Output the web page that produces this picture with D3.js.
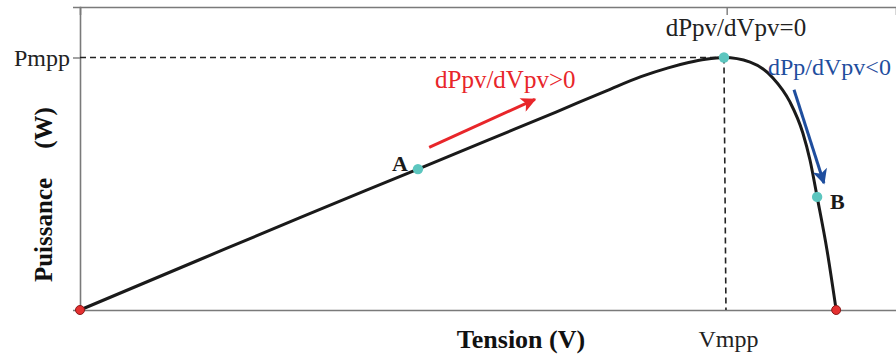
<!DOCTYPE html>
<html>
<head>
<meta charset="utf-8">
<script src="https://cdn.jsdelivr.net/npm/d3@7/dist/d3.min.js"></script>
<style>
  html, body { margin: 0; padding: 0; background: #fff; }
  svg { display: block; }
  text { font-family: "Liberation Serif", "Times New Roman", serif; }
</style>
</head>
<body>
<div id="chart"></div>
<script>
// P-V characteristic of a PV module (voltage in V, power in W)
const voltage = [0, 3.53, 6.47, 9.94, 12.0, 14.0, 15.5, 16.5, 17.3, 17.9, 18.4, 18.94, 19.71, 20.38, 20.88, 21.26, 21.47, 21.68, 21.97, 22.24];
const power   = [0, 20.0, 36.6, 55.8, 67.3, 78.4, 86.9, 92.4, 95.9, 98.0, 99.3, 100.0, 98.2, 91.9, 82.4, 70.1, 59.4, 44.8, 23.8, 0];

// Maximum power point and the two operating points
const Vmpp = 18.94, Pmpp = 100.0;
const idxA = 3, idxB = 17;
const xTickLabels = ["Vmpp"];
const yTickLabels = ["Pmpp"];

const W = 896, H = 355;
const m = { left: 80, right: 0, top: 7, bottom: 45 };

const svg = d3.select("#chart").append("svg").attr("width", W).attr("height", H);

const x = d3.scaleLinear().domain([0, 24]).range([m.left, W - m.right]);
const y = d3.scaleLinear().domain([0, 120]).range([H - m.bottom, m.top]);

const axisColor = "#7a7a7a";

// Axes
const gx = svg.append("g").attr("transform", `translate(0,${y(0)})`)
  .call(d3.axisBottom(x).tickValues([Vmpp]).tickSize(0).tickPadding(20).tickFormat(() => xTickLabels[0]));
const gxTop = svg.append("g").attr("transform", `translate(0,${y(120)})`)
  .call(d3.axisTop(x).tickValues([Vmpp + 0.08]).tickSize(-8).tickFormat(""));
const gy = svg.append("g").attr("transform", `translate(${x(0)},0)`)
  .call(d3.axisLeft(y).tickValues([Pmpp]).tickSize(7).tickPadding(3).tickFormat(() => yTickLabels[0]));

[gx, gxTop, gy].forEach(g => {
  g.select(".domain").attr("stroke", axisColor).attr("stroke-width", 1.6);
  g.selectAll(".tick line").attr("stroke", axisColor).attr("stroke-width", 1.4);
  g.selectAll(".tick text").attr("fill", "#222").attr("font-size", 24)
    .attr("font-family", "Liberation Serif, serif");
});
gx.selectAll(".tick text").attr("dy", "0.71em").attr("dx", 4);
gy.selectAll(".tick text").attr("dy", "0.32em");

// Dashed guides to the maximum power point
svg.append("line")
  .attr("x1", x(0)).attr("x2", x(Vmpp)).attr("y1", y(Pmpp)).attr("y2", y(Pmpp))
  .attr("stroke", "#222").attr("stroke-width", 1.6).attr("stroke-dasharray", "6,4");
svg.append("line")
  .attr("x1", x(Vmpp)).attr("x2", x(Vmpp) + 2).attr("y1", y(Pmpp)).attr("y2", y(0))
  .attr("stroke", "#222").attr("stroke-width", 1.6).attr("stroke-dasharray", "6,4");

// Power curve
const pts = voltage.map((v, i) => [v, power[i]]);
svg.append("path")
  .datum(pts)
  .attr("fill", "none")
  .attr("stroke", "#1a1a1a")
  .attr("stroke-width", 3)
  .attr("d", d3.line().x(d => x(d[0])).y(d => y(d[1])).curve(d3.curveMonotoneX));

// Arrowheads
const defs = svg.append("defs");
function marker(id, color) {
  defs.append("marker")
    .attr("id", id).attr("viewBox", "0 0 10 10")
    .attr("refX", 9).attr("refY", 5)
    .attr("markerWidth", 5.5).attr("markerHeight", 5)
    .attr("markerUnits", "strokeWidth")
    .attr("orient", "auto")
    .append("path").attr("d", "M0,0 L10,5 L0,10 L2.5,5 Z").attr("fill", color);
}
marker("arrRed", "#e8262a");
marker("arrBlue", "#1f4e9e");

// Rising side arrow
svg.append("line")
  .attr("x1", x(10.27)).attr("y1", y(64.4))
  .attr("x2", x(13.38)).attr("y2", y(83.4))
  .attr("stroke", "#e8262a").attr("stroke-width", 3)
  .attr("marker-end", "url(#arrRed)");
svg.append("text").attr("x", 435).attr("y", 88)
  .attr("fill", "#e8262a").attr("font-size", 25).text("dPpv/dVpv>0");

// Falling side arrow
svg.append("line")
  .attr("x1", x(21.0)).attr("y1", y(87.2))
  .attr("x2", x(21.88)).attr("y2", y(50.3))
  .attr("stroke", "#1f4e9e").attr("stroke-width", 3)
  .attr("marker-end", "url(#arrBlue)");
svg.append("text").attr("x", 768).attr("y", 75)
  .attr("fill", "#1f4e9e").attr("font-size", 24).text("dPp/dVpv<0");

// MPP annotation
svg.append("text").attr("x", x(Vmpp) + 12).attr("y", 36)
  .attr("text-anchor", "middle").attr("fill", "#222").attr("font-size", 25)
  .text("dPpv/dVpv=0");

// Points
const teal = "#5cc6bf";
const mppPts = [[Vmpp, Pmpp], pts[idxA], pts[idxB]];
svg.selectAll("circle.op").data(mppPts).join("circle")
  .attr("class", "op")
  .attr("cx", d => x(d[0])).attr("cy", d => y(d[1])).attr("r", 5.2)
  .attr("fill", teal);

const endPts = [pts[0], pts[pts.length - 1]];
svg.selectAll("circle.end").data(endPts).join("circle")
  .attr("class", "end")
  .attr("cx", d => x(d[0])).attr("cy", d => y(d[1])).attr("r", 4.5)
  .attr("fill", "#e53030").attr("stroke", "#8a1a1a").attr("stroke-width", 1);

// Point labels
svg.append("text").attr("x", x(pts[idxA][0]) - 10).attr("y", y(pts[idxA][1]) + 2)
  .attr("text-anchor", "end").attr("font-weight", "bold").attr("font-size", 22)
  .attr("fill", "#1a1a1a").text("A");
svg.append("text").attr("x", x(pts[idxB][0]) + 13).attr("y", y(pts[idxB][1]) + 12)
  .attr("font-weight", "bold").attr("font-size", 22)
  .attr("fill", "#1a1a1a").text("B");

// Axis titles
svg.append("text").attr("x", 521).attr("y", 348)
  .attr("text-anchor", "middle").attr("font-weight", "bold").attr("font-size", 26)
  .attr("fill", "#111").text("Tension (V)");
svg.append("text")
  .attr("transform", "translate(52,230) rotate(-90)")
  .attr("text-anchor", "middle").attr("font-weight", "bold").attr("font-size", 25)
  .attr("fill", "#111").text("Puissance");
svg.append("text")
  .attr("transform", "translate(52,128) rotate(-90)")
  .attr("text-anchor", "middle").attr("font-weight", "bold").attr("font-size", 25)
  .attr("fill", "#111").text("(W)");
</script>
</body>
</html>
